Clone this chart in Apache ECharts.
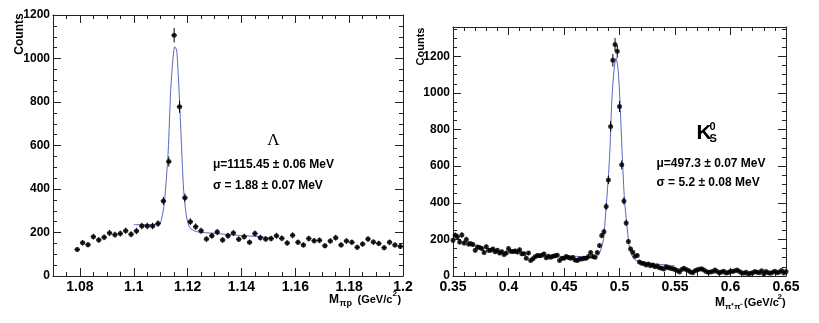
<!DOCTYPE html>
<html><head><meta charset="utf-8">
<script src="https://cdn.jsdelivr.net/npm/echarts@6/dist/echarts.min.js"></script>
<style>html,body{margin:0;padding:0;background:#fff}#c{width:819px;height:323px}</style>
</head><body><div id="c"></div>
<script>
// ---- Lambda panel data ----
const lambdaMass = [1.079,1.081,1.083,1.085,1.087,1.089,1.091,1.093,1.095,1.097,1.099,1.101,1.103,1.105,1.107,1.109,1.111,1.113,1.115,1.117,1.119,1.121,1.123,1.125,1.127,1.129,1.131,1.133,1.135,1.137,1.139,1.141,1.143,1.145,1.147,1.149,1.151,1.153,1.155,1.157,1.159,1.161,1.163,1.165,1.167,1.169,1.171,1.173,1.175,1.177,1.179,1.181,1.183,1.185,1.187,1.189,1.191,1.193,1.195,1.197,1.199];
const lambdaCounts = [122,153,144,181,166,178,198,190,195,208,192,207,230,230,230,241,345,526,1107,778,360,250,227,208,170,185,202,166,185,198,169,181,155,195,176,170,172,185,173,152,187,155,143,172,162,164,139,161,176,143,161,155,132,147,170,156,150,130,155,143,136];
const lambdaFitMass = [1.1000,1.1050,1.1095,1.1104,1.1112,1.1119,1.1128,1.1137,1.1143,1.1152,1.1159,1.1165,1.1171,1.1178,1.1185,1.1195,1.1208,1.1233,1.1300,1.1400,1.1470,1.1520];
const lambdaFitCounts = [236,236,238,268,320,415,575,850,960,1054,1039,932,778,579,400,280,222,204,196,186,181,172];
const lambdaXTicks = [1.08,1.1,1.12,1.14,1.16,1.18,1.2];
const lambdaYTicks = [0,200,400,600,800,1000,1200];

// ---- K0S panel data ----
const kaonMass = [
0.350,0.352,0.354,0.356,0.358,0.360,0.362,0.364,0.366,0.368,
0.370,0.372,0.374,0.376,0.378,0.380,0.382,0.384,0.386,0.388,
0.390,0.392,0.394,0.396,0.398,0.400,0.402,0.404,0.406,0.408,
0.410,0.412,0.414,0.416,0.418,0.420,0.422,0.424,0.426,0.428,
0.430,0.432,0.434,0.436,0.438,0.440,0.442,0.444,0.446,0.448,
0.450,0.452,0.454,0.456,0.458,0.460,0.462,0.464,0.466,0.468,
0.470,0.472,0.474,0.476,0.478,0.480,0.482,0.484,0.486,0.488,
0.490,0.492,0.494,0.496,0.498,0.500,0.502,0.504,0.506,0.508,
0.510,0.512,0.514,0.516,0.518,0.520,0.522,0.524,0.526,0.528,
0.530,0.532,0.534,0.536,0.538,0.540,0.542,0.544,0.546,0.548,
0.550,0.552,0.554,0.556,0.558,0.560,0.562,0.564,0.566,0.568,
0.570,0.572,0.574,0.576,0.578,0.580,0.582,0.584,0.586,0.588,
0.590,0.592,0.594,0.596,0.598,0.600,0.602,0.604,0.606,0.608,
0.610,0.612,0.614,0.616,0.618,0.620,0.622,0.624,0.626,0.628,
0.630,0.632,0.634,0.636,0.638,0.640,0.642,0.644,0.646,0.648,
0.650];
const kaonCounts = [
195,222,215,186,224,180,200,175,176,172,
140,158,156,150,128,160,140,140,148,133,
140,125,132,118,126,150,135,134,137,131,
143,122,122,97,125,85,94,105,112,110,
114,120,100,108,102,108,110,114,85,97,
97,106,101,97,101,88,84,93,93,97,
97,106,128,106,102,128,166,221,242,379,
525,817,1178,1264,1227,926,607,410,290,188,
148,130,108,112,76,70,68,60,66,56,
60,50,55,45,42,38,50,45,42,40,
35,30,22,36,42,36,30,22,18,28,
34,37,40,33,25,20,22,25,33,24,
18,22,26,16,19,26,24,29,33,24,
18,15,20,12,15,18,24,20,18,29,
12,24,18,15,20,26,18,22,30,16,
24];
const kaonFitMass = [0.450,0.460,0.470,0.4765,0.480,0.482,0.4855,0.487,0.4885,0.490,0.4915,0.493,0.4945,0.496,0.4969,0.498,0.499,0.5005,0.502,0.5035,0.5045,0.5065,0.5086,0.511,0.514,0.520,0.532,0.5425,0.550];
const kaonFitCounts = [112,108,103,100,108,124,197,300,420,543,707,945,1090,1170,1191,1160,1109,945,726,525,416,288,170,115,88,78,66,60,55];
const kaonXTicks = [0.35,0.4,0.45,0.5,0.55,0.6,0.65];
const kaonYTicks = [0,200,400,600,800,1000,1200];

// ---- helpers ----
function stepTicks(min, max, step) {
  const out = [];
  for (let i = 0; min + i * step <= max + step * 1e-6; i++) out.push(+((min + i * step).toFixed(6)));
  return out;
}
const FRAME = '#222';
const FONT = '"Liberation Sans", Arial, sans-serif';
function axes(grid, min, max, majors, minors, sides, labelStyle) {
  const list = [];
  sides.forEach((pos, si) => {
    list.push({
      type: 'value', gridIndex: grid, position: pos, min: min, max: max,
      axisLine: { show: true, onZero: false, lineStyle: { color: FRAME, width: 1 } },
      axisTick: { show: true, inside: true, length: 8, customValues: majors, lineStyle: { color: FRAME, width: 1 } },
      axisLabel: Object.assign({ show: si === 0, customValues: majors, formatter: v => String(v) }, labelStyle),
      splitLine: { show: false }
    });
    list.push({
      type: 'value', gridIndex: grid, position: pos, min: min, max: max,
      axisLine: { show: false, onZero: false },
      axisTick: { show: true, inside: true, length: 4, customValues: minors, lineStyle: { color: FRAME, width: 1 } },
      axisLabel: { show: false, customValues: minors },
      splitLine: { show: false }
    });
  });
  return list;
}
const xLab = { fontFamily: FONT, fontWeight: 'bold', fontSize: 14, color: '#000', margin: 4 };
const yLab = { fontFamily: FONT, fontWeight: 'bold', fontSize: 12, color: '#000', margin: 3 };

const xAxes = [].concat(
  axes(0, 1.07, 1.2, lambdaXTicks, stepTicks(1.07, 1.2, 0.005), ['bottom', 'top'], xLab),
  axes(1, 0.35, 0.65, kaonXTicks, stepTicks(0.35, 0.65, 0.01), ['bottom', 'top'], xLab)
);
const yAxes = [].concat(
  axes(0, 0, 1200, lambdaYTicks, stepTicks(0, 1200, 50), ['left', 'right'], yLab),
  axes(1, 0, 1360, kaonYTicks, stepTicks(0, 1350, 50), ['left', 'right'], yLab)
);

function zip(a, b) { return a.map((v, i) => [v, b[i]]); }
function errorBars(xi, yi, xs, ys, hw) {
  return {
    type: 'custom', xAxisIndex: xi, yAxisIndex: yi, silent: true, z: 3,
    data: xs.map((v, i) => [v, ys[i], Math.sqrt(ys[i])]),
    renderItem: function (params, api) {
      const x = api.value(0), y = api.value(1), e = api.value(2);
      const c = api.coord([x, y]), t = api.coord([x, y + e]), b = api.coord([x, y - e]);
      const l = api.coord([x - hw, y]), r = api.coord([x + hw, y]);
      return { type: 'group', children: [
        { type: 'line', shape: { x1: c[0], y1: t[1], x2: c[0], y2: b[1] }, style: { stroke: '#000', lineWidth: 1 } },
        { type: 'line', shape: { x1: l[0], y1: c[1], x2: r[0], y2: c[1] }, style: { stroke: '#000', lineWidth: 1 } }
      ] };
    }
  };
}
function fitLine(xi, yi, xs, ys) {
  return { type: 'line', xAxisIndex: xi, yAxisIndex: yi, data: zip(xs, ys), symbol: 'none', smooth: 0.25,
    lineStyle: { color: '#5868c0', width: 1 }, z: 2, silent: true };
}
function markers(xi, yi, xs, ys, size) {
  return { type: 'scatter', xAxisIndex: xi, yAxisIndex: yi, data: zip(xs, ys), symbol: 'circle',
    symbolSize: size, itemStyle: { color: '#000' }, z: 4, silent: true };
}

function txt(x, y, text, font, align, rot) {
  return { type: 'text', x: x, y: y, rotation: rot || 0, silent: true,
    style: { text: text, font: font, fill: '#000', align: align || 'left', verticalAlign: 'middle' } };
}
const B12 = 'bold 12px ' + FONT;
const B11 = 'bold 11px ' + FONT;
const graphics = [
  txt(20, 34, 'Counts', B12, 'center', Math.PI / 2),
  txt(420.5, 46.5, 'Counts', B11, 'center', Math.PI / 2),
  // x titles
  txt(329, 299.5, 'M', B12),
  txt(339.5, 304, 'πp', 'bold 9px ' + FONT),
  txt(357.5, 300, '(GeV/c', B11),
  txt(392.5, 294, '2', 'bold 8px ' + FONT),
  txt(397.5, 300, ')', B11),
  txt(715, 302.5, 'M', B12),
  txt(725, 307, 'π⁺π⁻', 'bold 8px ' + FONT),
  txt(744, 303, '(GeV/c', B11),
  txt(777.5, 297, '2', 'bold 8px ' + FONT),
  txt(782, 303, ')', B11),
  // annotations
  txt(273.5, 140.5, 'Λ', '17px "Liberation Serif", serif', 'center'),
  txt(213, 165, 'μ=1115.45 ± 0.06 MeV', B12),
  txt(213, 185.5, 'σ = 1.88 ± 0.07 MeV', B12),
  txt(696.5, 133, 'K', 'bold 21px ' + FONT),
  txt(709.5, 127, '0', B11),
  txt(709.5, 139, 'S', B11),
  txt(656.5, 163.5, 'μ=497.3 ± 0.07 MeV', B12),
  txt(656.5, 182.5, 'σ = 5.2 ± 0.08 MeV', B12)
];

const chart = echarts.init(document.getElementById('c'), null, { renderer: 'canvas' });
chart.setOption({
  animation: false,
  backgroundColor: '#fff',
  grid: [
    { left: 53, top: 15, width: 350, height: 261 },
    { left: 453, top: 27, width: 333, height: 249 }
  ],
  xAxis: xAxes,
  yAxis: yAxes,
  series: [
    fitLine(0, 0, lambdaFitMass, lambdaFitCounts),
    errorBars(0, 0, lambdaMass, lambdaCounts, 0.001),
    markers(0, 0, lambdaMass, lambdaCounts, 5),
    fitLine(4, 4, kaonFitMass, kaonFitCounts),
    errorBars(4, 4, kaonMass, kaonCounts, 0.001),
    markers(4, 4, kaonMass, kaonCounts, 5)
  ],
  graphic: graphics
});
</script></body></html>
